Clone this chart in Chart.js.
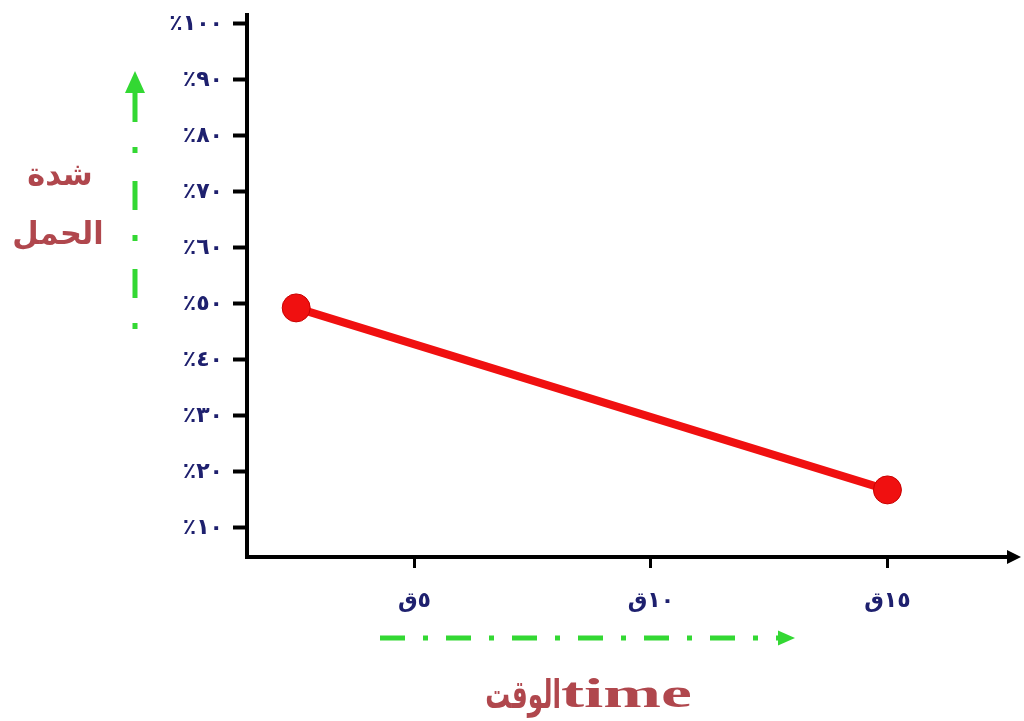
<!DOCTYPE html>
<html>
<head>
<meta charset="utf-8">
<script src="https://cdn.jsdelivr.net/npm/chart.js@4"></script>
<style>
  html, body { margin: 0; background: #fff; }
</style>
</head>
<body>
<canvas id="loadChart" width="1024" height="721"></canvas>
<script>
// data
const timeValues = [2.5, 15];
const loadValues = [49.3, 16.8];
const xTickValues = [5, 10, 15];
const xTickLabels = ['٥ق', '١٠ق', '١٥ق'];
const yTickValues = [10, 20, 30, 40, 50, 60, 70, 80, 90, 100];
const yTickLabels = ['٪١٠', '٪٢٠', '٪٣٠', '٪٤٠', '٪٥٠', '٪٦٠', '٪٧٠', '٪٨٠', '٪٩٠', '٪١٠٠'];
const yTitleLines = ['شدة', 'الحمل'];
const xTitleParts = ['الوقت', 'time'];

const titleColor = '#b0474d';
const tickColor = '#1e206e';
const arrowGreen = '#33d833';

// dashed green arrow, dash pattern starts at (x1, y1)
function greenArrow(ctx, x1, y1, x2, y2, dash, head, headW) {
    const ang = Math.atan2(y2 - y1, x2 - x1);
    const bx = x2 - Math.cos(ang) * head;
    const by = y2 - Math.sin(ang) * head;
    const px = Math.cos(ang + Math.PI / 2) * headW / 2;
    const py = Math.sin(ang + Math.PI / 2) * headW / 2;
    ctx.save();
    ctx.strokeStyle = arrowGreen;
    ctx.fillStyle = arrowGreen;
    ctx.lineWidth = 5;
    ctx.setLineDash(dash);
    ctx.beginPath();
    ctx.moveTo(x1, y1);
    ctx.lineTo(bx, by);
    ctx.stroke();
    ctx.setLineDash([]);
    ctx.beginPath();
    ctx.moveTo(x2, y2);
    ctx.lineTo(bx + px, by + py);
    ctx.lineTo(bx - px, by - py);
    ctx.closePath();
    ctx.fill();
    ctx.restore();
}

function stretchedText(ctx, text, x, y, sx, align) {
    ctx.save();
    ctx.translate(x, y);
    ctx.scale(sx, 1);
    ctx.textAlign = align;
    ctx.fillText(text, 0, 0);
    ctx.restore();
}

const decor = {
    id: 'decor',
    afterDraw(chart) {
        const ctx = chart.ctx;
        const a = chart.chartArea;

        // arrowhead at the end of the time axis
        ctx.save();
        ctx.fillStyle = '#000';
        ctx.beginPath();
        ctx.moveTo(a.right + 12, a.bottom);
        ctx.lineTo(a.right - 2, a.bottom - 7);
        ctx.lineTo(a.right - 2, a.bottom + 7);
        ctx.closePath();
        ctx.fill();
        ctx.restore();

        // green dashed arrows
        const vx = a.left - 112;
        const vTop = a.bottom - 486;
        greenArrow(ctx, vx, vTop + 22, vx, vTop, [0], 22, 20);
        ctx.save();
        ctx.strokeStyle = arrowGreen;
        ctx.lineWidth = 5;
        ctx.setLineDash([29, 25, 6, 28]);
        ctx.beginPath();
        ctx.moveTo(vx, vTop + 22);
        ctx.lineTo(vx, a.bottom - 201);
        ctx.stroke();
        ctx.restore();
        greenArrow(ctx, a.left + 133, a.bottom + 81, a.left + 548, a.bottom + 81, [25, 18, 5, 18], 17, 15);

        // axis titles
        ctx.save();
        ctx.fillStyle = titleColor;
        ctx.textBaseline = 'middle';
        ctx.font = 'bold 32px "DejaVu Sans"';
        stretchedText(ctx, yTitleLines[0], a.left - 187, a.bottom - 380, 0.95, 'center');
        stretchedText(ctx, yTitleLines[1], a.left - 189, a.bottom - 321, 0.95, 'center');
        ctx.textBaseline = 'alphabetic';
        ctx.font = 'bold 40px "DejaVu Sans"';
        stretchedText(ctx, xTitleParts[0], a.left + 314, a.bottom + 151, 0.62, 'right');
        ctx.font = 'bold 42px "Liberation Serif"';
        stretchedText(ctx, xTitleParts[1], a.left + 314, a.bottom + 150, 1.65, 'left');
        ctx.restore();
    }
};

new Chart(document.getElementById('loadChart'), {
    type: 'line',
    data: {
        datasets: [{
            data: timeValues.map((t, i) => ({ x: t, y: loadValues[i] })),
            borderColor: '#f01010',
            backgroundColor: '#f01010',
            borderWidth: 8,
            pointRadius: 14,
            pointBorderWidth: 1,
            pointBorderColor: '#c80000',
            tension: 0,
            clip: false
        }]
    },
    options: {
        responsive: false,
        animation: false,
        layout: { padding: { top: 15, right: 12, left: 0, bottom: 0 } },
        plugins: { legend: { display: false }, tooltip: { enabled: false } },
        scales: {
            x: {
                type: 'linear',
                min: 1.46,
                max: 17.57,
                afterBuildTicks: (s) => { s.ticks = xTickValues.map(v => ({ value: v })); },
                afterFit: (s) => { s.height = 164; s.paddingLeft = 0; s.paddingRight = 0; },
                border: { display: true, color: '#000', width: 4 },
                grid: { drawOnChartArea: false, drawTicks: true, tickLength: 11, tickWidth: 3, color: '#000' },
                ticks: {
                    padding: 20,
                    color: tickColor,
                    font: { family: 'DejaVu Sans', size: 22, weight: 'bold' },
                    callback: (v) => xTickLabels[xTickValues.indexOf(v)]
                }
            },
            y: {
                min: 4.82,
                max: 101.6,
                afterBuildTicks: (s) => { s.ticks = yTickValues.map(v => ({ value: v })); },
                afterFit: (s) => { s.width = 247; s.paddingTop = 0; s.paddingBottom = 0; },
                border: { display: true, color: '#000', width: 4 },
                grid: { drawOnChartArea: false, drawTicks: true, tickLength: 14, tickWidth: 4, color: '#000' },
                ticks: {
                    padding: 10,
                    color: tickColor,
                    font: { family: 'DejaVu Sans', size: 22, weight: 'bold' },
                    callback: (v) => yTickLabels[yTickValues.indexOf(v)]
                }
            }
        }
    },
    plugins: [decor]
});
</script>
</body>
</html>
